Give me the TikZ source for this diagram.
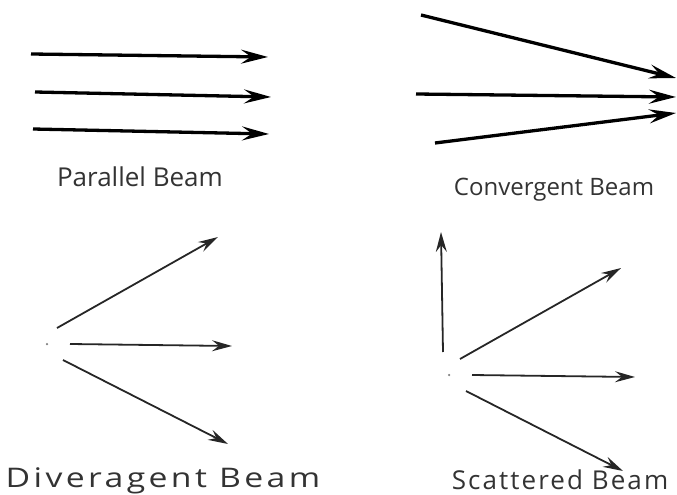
\documentclass[tikz,border=0pt]{standalone}
\usepackage{fontspec}
\setmainfont{Open Sans}
\usetikzlibrary{arrows.meta}

\begin{document}
\begin{tikzpicture}[
  x=1pt, y=-1pt,
  beam/.style={-{Stealth[length=27pt,width=14pt,inset=10pt]}, line width=3.3pt},
  ray/.style={-{Stealth[length=20pt,width=11pt,inset=7pt]}, line width=1.8pt, draw=black!85},
  caption/.style={text=black!80, inner sep=0pt, anchor=base},
  source/.style={circle, fill=black!50, inner sep=0pt, minimum size=2.5pt}
]
\useasboundingbox (0,0) rectangle (677,495);

% parallel beam
\coordinate (par1a) at (31,54);  \coordinate (par1b) at (268,57);
\coordinate (par2a) at (35,92);  \coordinate (par2b) at (271,97);
\coordinate (par3a) at (33,129); \coordinate (par3b) at (269,134);
\draw[beam] (par1a) -- (par1b);
\draw[beam] (par2a) -- (par2b);
\draw[beam] (par3a) -- (par3b);
\node[caption, font=\fontsize{26}{31}\selectfont] (parlabel) at (140,186) {Parallel Beam};

% convergent beam
\coordinate (con1a) at (421,15);  \coordinate (con1b) at (676,78);
\coordinate (con2a) at (416,94);  \coordinate (con2b) at (676,97);
\coordinate (con3a) at (435,143); \coordinate (con3b) at (676,113);
\draw[beam] (con1a) -- (con1b);
\draw[beam] (con2a) -- (con2b);
\draw[beam] (con3a) -- (con3b);
\node[caption, font=\fontsize{24}{29}\selectfont] (conlabel) at (554,195) {Convergent Beam};

% divergent beam
\node[source] (divsrc) at (47,344) {};
\coordinate (div1a) at (57,328); \coordinate (div1b) at (218,237);
\coordinate (div2a) at (70,344); \coordinate (div2b) at (232,346);
\coordinate (div3a) at (63,360); \coordinate (div3b) at (228,444);
\draw[ray] (div1a) -- (div1b);
\draw[ray] (div2a) -- (div2b);
\draw[ray] (div3a) -- (div3b);
\node[caption, font=\fontsize{27}{32}\selectfont\addfontfeatures{LetterSpace=10}] (divlabel) at (163,487)
  {\scalebox{1.25}[1]{Diveragent Beam}};

% scattered beam
\node[source] (scasrc) at (449,375) {};
\coordinate (sca0a) at (443,352); \coordinate (sca0b) at (441,232);
\coordinate (sca1a) at (460,359); \coordinate (sca1b) at (621,268);
\coordinate (sca2a) at (472,375); \coordinate (sca2b) at (635,377);
\coordinate (sca3a) at (466,391); \coordinate (sca3b) at (623,471);
\draw[ray] (sca0a) -- (sca0b);
\draw[ray] (sca1a) -- (sca1b);
\draw[ray] (sca2a) -- (sca2b);
\draw[ray] (sca3a) -- (sca3b);
\node[caption, font=\fontsize{26}{31}\selectfont\addfontfeatures{LetterSpace=8}] (scalabel) at (560,489) {Scattered Beam};
\end{tikzpicture}
\end{document}
